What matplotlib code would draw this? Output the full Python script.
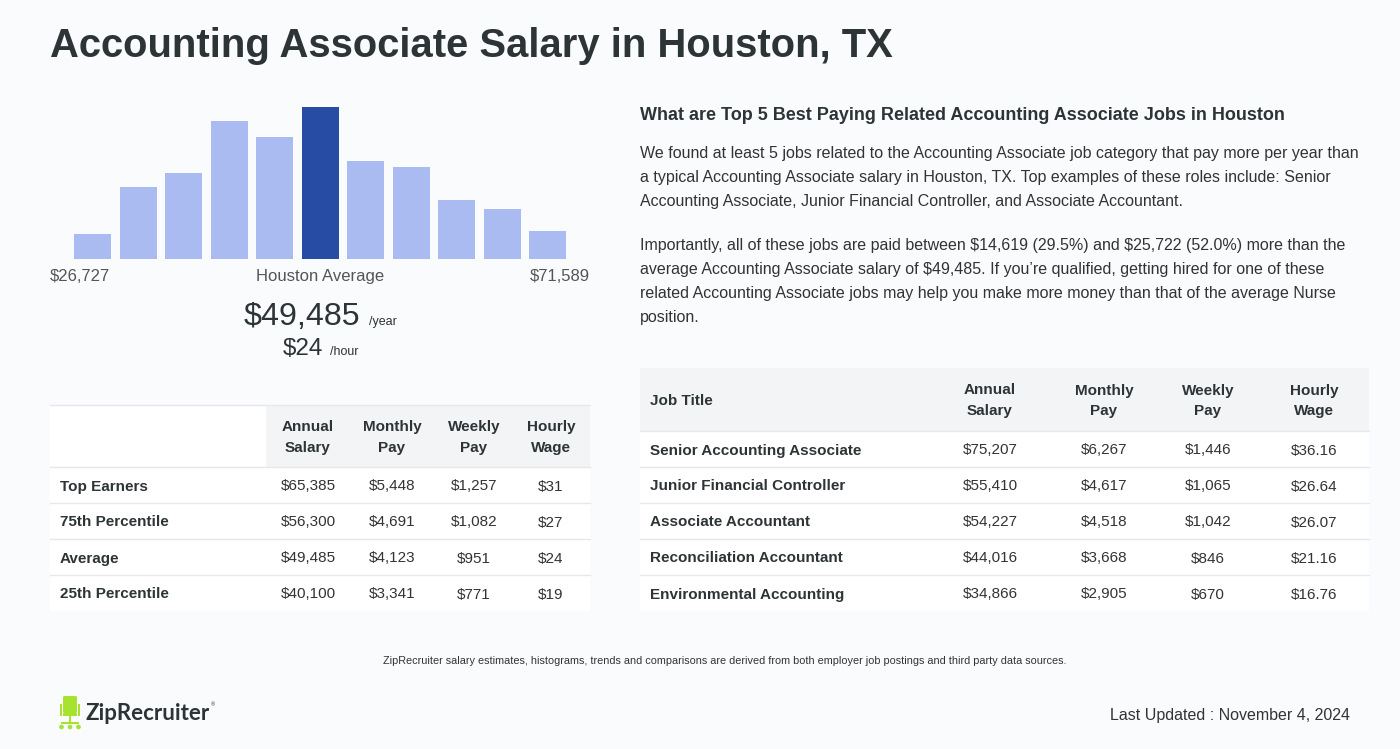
import matplotlib
matplotlib.use("Agg")
import matplotlib.pyplot as plt
from matplotlib.patches import Rectangle, FancyBboxPatch

plt.rcParams['font.family'] = ['Liberation Sans', 'DejaVu Sans']
plt.rcParams['text.parse_math'] = False

# ---- data ----
hist_heights = [25, 72, 86, 138, 122, 152, 98, 92, 59, 50, 28]
highlight_bar = 5
range_low = "$26,727"
range_high = "$71,589"
avg_year = "$49,485"
avg_hour = "$24"

pay_columns = [("Annual", "Salary"), ("Monthly", "Pay"), ("Weekly", "Pay"), ("Hourly", "Wage")]
pct_labels = ["Top Earners", "75th Percentile", "Average", "25th Percentile"]
pct_annual = ["$65,385", "$56,300", "$49,485", "$40,100"]
pct_monthly = ["$5,448", "$4,691", "$4,123", "$3,341"]
pct_weekly = ["$1,257", "$1,082", "$951", "$771"]
pct_hourly = ["$31", "$27", "$24", "$19"]

job_titles = ["Senior Accounting Associate", "Junior Financial Controller",
              "Associate Accountant", "Reconciliation Accountant",
              "Environmental Accounting"]
job_annual = ["$75,207", "$55,410", "$54,227", "$44,016", "$34,866"]
job_monthly = ["$6,267", "$4,617", "$4,518", "$3,668", "$2,905"]
job_weekly = ["$1,446", "$1,065", "$1,042", "$846", "$670"]
job_hourly = ["$36.16", "$26.64", "$26.07", "$21.16", "$16.76"]

title = "Accounting Associate Salary in Houston, TX"
heading = "What are Top 5 Best Paying Related Accounting Associate Jobs in Houston"
para1 = ["We found at least 5 jobs related to the Accounting Associate job category that pay more per year than",
         "a typical Accounting Associate salary in Houston, TX. Top examples of these roles include: Senior",
         "Accounting Associate, Junior Financial Controller, and Associate Accountant."]
para2 = ["Importantly, all of these jobs are paid between $14,619 (29.5%) and $25,722 (52.0%) more than the",
         "average Accounting Associate salary of $49,485. If you\u2019re qualified, getting hired for one of these",
         "related Accounting Associate jobs may help you make more money than that of the average Nurse",
         "position."]
footnote = ("ZipRecruiter salary estimates, histograms, trends and comparisons are derived from both "
            "employer job postings and third party data sources.")
updated = "Last Updated : November 4, 2024"

# ---- colours ----
BG = "#f9fbfd"
DARK = "#2d3436"
TEXT = "#333333"
GREY = "#555555"
HEAD_BG = "#f3f4f6"
LINE = "#e6e8eb"
LIGHT_BAR = "#a9bbf0"
DARK_BAR = "#264ca3"
GREEN = "#a6e22e"

W, H = 1400, 749
fig = plt.figure(figsize=(W / 100, H / 100), dpi=100, facecolor=BG)

# full-figure axes in pixel coordinates for text and tables
ax = fig.add_axes([0, 0, 1, 1])
ax.set_xlim(0, W)
ax.set_ylim(H, 0)
ax.axis("off")
ax.set_facecolor(BG)


def line_text(x, yc, s, fs, **kw):
    # place text so its cap height is centred on yc (px coords)
    ax.text(x, yc + 0.36 * fs / 0.72, s, fontsize=fs, va="baseline", **kw)


ax.text(50, 46, title, fontsize=28.8, fontweight="bold", color=DARK, va="center", ha="left")

# ---- histogram ----
hx0, hx1, hbot, htop = 50, 590, 259, 107
hax = fig.add_axes([hx0 / W, 1 - hbot / H, (hx1 - hx0) / W, (hbot - htop) / H])
pitch = 45.5
first_center = 92.5
hax.set_xlim((hx0 - first_center) / pitch, (hx1 - first_center) / pitch)
hax.set_ylim(0, max(hist_heights))
colors = [DARK_BAR if i == highlight_bar else LIGHT_BAR for i in range(len(hist_heights))]
hax.bar(range(len(hist_heights)), hist_heights, width=37 / pitch, color=colors)
hax.axis("off")

line_text(50, 275, range_low, 12, color=GREY, ha="left")
line_text(320, 275, "Houston Average", 12, color=GREY, ha="center")
line_text(590, 275, range_high, 12, color=GREY, ha="right")

ax.text(360, 325, avg_year, fontsize=23.2, color=DARK, ha="right", va="baseline")
ax.text(369, 325, "/year", fontsize=9, color=DARK, ha="left", va="baseline")
ax.text(323, 355, avg_hour, fontsize=17.5, color=DARK, ha="right", va="baseline")
ax.text(330, 355, "/hour", fontsize=9, color=DARK, ha="left", va="baseline")


def draw_table(x0, x1, top, head_bottom, row_h, first_col_bg, col_x, headers,
               label_header, labels, columns, fs):
    n = len(labels)
    bottom = head_bottom + n * row_h
    # header
    ax.add_patch(Rectangle((x0, top), x1 - x0, head_bottom - top, facecolor=HEAD_BG,
                           edgecolor="none", zorder=1))
    if first_col_bg is not None:
        ax.add_patch(Rectangle((x0, top), first_col_bg - x0, head_bottom - top,
                               facecolor="white", edgecolor="none", zorder=1))
        ax.plot([x0, x1], [top, top], color=LINE, lw=1, zorder=2)
    ax.add_patch(Rectangle((x0, head_bottom), x1 - x0, bottom - head_bottom,
                           facecolor="white", edgecolor="none", zorder=1))
    for r in range(n):
        y = head_bottom + r * row_h
        ax.plot([x0, x1], [y, y], color=LINE, lw=1, zorder=2)
    hy = (top + head_bottom) / 2
    if label_header:
        line_text(x0 + 10, hy, label_header, fs, fontweight="bold", color=DARK,
                  ha="left", zorder=3)
    for cx, (l1, l2) in zip(col_x, headers):
        line_text(cx, hy - 10.5, l1, fs, fontweight="bold", color=DARK, ha="center", zorder=3)
        line_text(cx, hy + 10.5, l2, fs, fontweight="bold", color=DARK, ha="center", zorder=3)
    for r, lab in enumerate(labels):
        y = head_bottom + (r + 0.5) * row_h
        line_text(x0 + 10, y, lab, fs, fontweight="bold", color=DARK, ha="left", zorder=3)
        for cx, col in zip(col_x, columns):
            line_text(cx, y, col[r], fs, color=TEXT, ha="center", zorder=3)


draw_table(50, 590, 405, 467, 36, 266, [308, 392, 474, 551], pay_columns, None,
           pct_labels, [pct_annual, pct_monthly, pct_weekly, pct_hourly], 11)

# ---- right side ----
line_text(640, 114, heading, 13.0, fontweight="bold", color=DARK, ha="left")
for i, line in enumerate(para1):
    line_text(640, 152 + 24 * i, line, 11.5, color=TEXT, ha="left")
for i, line in enumerate(para2):
    line_text(640, 244 + 24 * i, line, 11.5, color=TEXT, ha="left")

draw_table(640, 1369, 368, 431, 36, None, [990, 1104, 1208, 1314], pay_columns, "Job Title",
           job_titles, [job_annual, job_monthly, job_weekly, job_hourly], 11)

# ---- footer ----
line_text(725, 660, footnote, 7.85, color=TEXT, ha="center")
line_text(1350, 714, updated, 11.5, color=TEXT, ha="right")

# ZipRecruiter logo: simple chair glyph + wordmark
ax.add_patch(FancyBboxPatch((63, 696), 14, 17, boxstyle="round,pad=0,rounding_size=1.5",
                            facecolor=GREEN, edgecolor="none"))
ax.add_patch(Rectangle((60, 704), 2.2, 12, facecolor=GREEN, edgecolor="none"))
ax.add_patch(Rectangle((77.8, 704), 2.2, 12, facecolor=GREEN, edgecolor="none"))
ax.add_patch(Rectangle((63, 713), 14, 3, facecolor=GREEN, edgecolor="none"))
ax.add_patch(Rectangle((68.8, 716), 2.4, 8, facecolor=GREEN, edgecolor="none"))
ax.add_patch(Rectangle((61, 722), 18, 2.2, facecolor=GREEN, edgecolor="none"))
for cx in (61.5, 70, 78.5):
    ax.add_patch(plt.Circle((cx, 727), 1.6, color=GREEN))
ax.text(86, 713, "ZipRecruiter", fontsize=16, fontweight="bold", color=DARK,
        family=["Lato", "DejaVu Sans"], ha="left", va="center")
ax.text(211, 705, "\u00ae", fontsize=4, color=DARK, ha="left", va="center")

fig.savefig("out.png", dpi=100, facecolor=BG)
